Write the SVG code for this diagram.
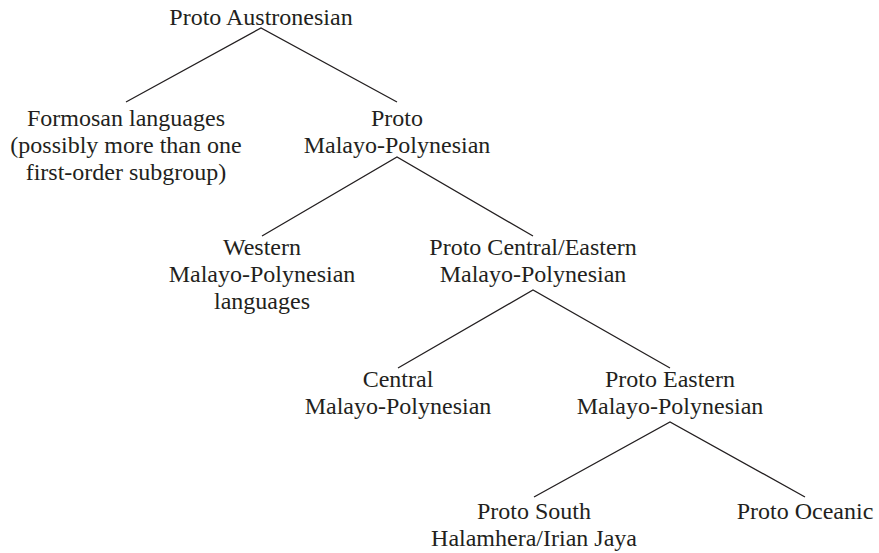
<svg xmlns="http://www.w3.org/2000/svg" width="879" height="553" viewBox="0 0 879 553">
  <style>
    .label { font-family: "Liberation Serif", "DejaVu Serif", serif; font-size: 24px; fill: #231f20; text-anchor: middle; }
    .edge { stroke: #231f20; stroke-width: 1.3; fill: none; }
  </style>
  <rect width="879" height="553" fill="#ffffff"/>

  <!-- tree branches: each path runs from left child up to parent and down to right child -->
  <g id="connectors">
    <path class="edge" d="M126,102 L261,28 L397,102"/>
    <path class="edge" d="M262,236 L397,157 L533,236"/>
    <path class="edge" d="M398,368 L533,290 L670,368"/>
    <path class="edge" d="M534,497 L670,422 L805,497"/>
  </g>

  <g id="proto-austronesian">
    <text class="label" x="261" y="25">Proto Austronesian</text>
  </g>
  <g id="formosan">
    <text class="label" x="126" y="126">Formosan languages</text>
    <text class="label" x="126" y="153">(possibly more than one</text>
    <text class="label" x="126" y="180">first-order subgroup)</text>
  </g>
  <g id="proto-malayo-polynesian">
    <text class="label" x="397" y="126">Proto</text>
    <text class="label" x="397" y="153">Malayo-Polynesian</text>
  </g>
  <g id="western-mp">
    <text class="label" x="262" y="255">Western</text>
    <text class="label" x="262" y="282">Malayo-Polynesian</text>
    <text class="label" x="262" y="309">languages</text>
  </g>
  <g id="proto-central-eastern-mp">
    <text class="label" x="533" y="255">Proto Central/Eastern</text>
    <text class="label" x="533" y="282">Malayo-Polynesian</text>
  </g>
  <g id="central-mp">
    <text class="label" x="398" y="387">Central</text>
    <text class="label" x="398" y="414">Malayo-Polynesian</text>
  </g>
  <g id="proto-eastern-mp">
    <text class="label" x="670" y="387">Proto Eastern</text>
    <text class="label" x="670" y="414">Malayo-Polynesian</text>
  </g>
  <g id="proto-shwng">
    <text class="label" x="534" y="519">Proto South</text>
    <text class="label" x="534" y="546">Halamhera/Irian Jaya</text>
  </g>
  <g id="proto-oceanic">
    <text class="label" x="805" y="519">Proto Oceanic</text>
  </g>
</svg>
